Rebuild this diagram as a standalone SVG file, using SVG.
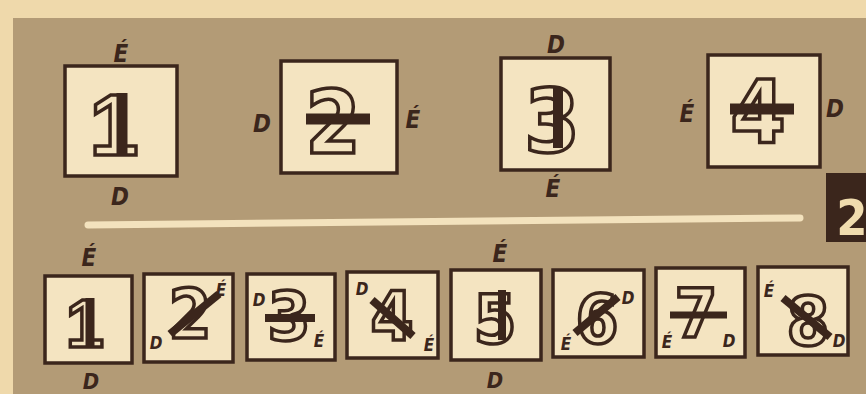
<svg xmlns="http://www.w3.org/2000/svg" width="866" height="394" viewBox="0 0 866 394">
<style>
.box{fill:#f4e4c1;stroke:#3b261c;stroke-width:3.5}
.dig{font-family:"DejaVu Sans Condensed","DejaVu Sans",sans-serif;font-weight:bold;fill:#f4e4c1;stroke:#3b261c;stroke-width:3.5;text-anchor:middle}
.one{font-family:"Liberation Sans","DejaVu Sans",sans-serif}
.big{font-size:88px}
.small{font-size:68px}
.bar{stroke:#3b261c;stroke-linecap:butt;fill:none}
.lab{font-family:"DejaVu Sans Condensed","DejaVu Sans",sans-serif;font-weight:bold;font-style:italic;fill:#3b261c;text-anchor:middle}
.l1{font-size:24px}
.l2{font-size:17px}
</style>
<rect x="0" y="0" width="866" height="394" fill="#efd9ab"/>
<rect x="13" y="18" width="853" height="376" fill="#b39b76"/>
<line x1="88" y1="225" x2="800" y2="218" stroke="#f3e2bd" stroke-width="7" stroke-linecap="round"/>
<g id="tag2">
<rect x="826" y="173" width="40" height="69" fill="#3b261c"/>
<text x="852" y="235" font-family="DejaVu Sans Condensed,DejaVu Sans,sans-serif" font-weight="bold" font-size="50" fill="#f0dcae" text-anchor="middle">2</text>
</g>
<g id="top1">
<rect class="box" x="65" y="66" width="112" height="110"/>
<text class="dig one big" x="114" y="155">1</text>
<line class="bar" x1="122" y1="93" x2="122" y2="155" stroke-width="11"/>
<text class="lab l1" x="121" y="62">É</text>
<text class="lab l1" x="120" y="205">D</text>
</g>
<g id="top2">
<rect class="box" x="281" y="61" width="116" height="112"/>
<text class="dig big" x="333" y="153">2</text>
<line class="bar" x1="306" y1="119" x2="370" y2="119" stroke-width="11"/>
<text class="lab l1" x="262" y="132">D</text>
<text class="lab l1" x="413" y="128">É</text>
</g>
<g id="top3">
<rect class="box" x="501" y="58" width="109" height="112"/>
<text class="dig big" x="552" y="152">3</text>
<line class="bar" x1="558" y1="88" x2="558" y2="148" stroke-width="10"/>
<text class="lab l1" x="556" y="53">D</text>
<text class="lab l1" x="553" y="197">É</text>
</g>
<g id="top4">
<rect class="box" x="708" y="55" width="112" height="112"/>
<text class="dig big" x="758" y="143">4</text>
<line class="bar" x1="730" y1="109" x2="794" y2="109" stroke-width="11"/>
<text class="lab l1" x="687" y="122">É</text>
<text class="lab l1" x="835" y="117">D</text>
</g>
<g id="b1">
<rect class="box" x="45" y="276" width="87" height="87"/>
<text class="dig one small" x="85" y="347">1</text>
<line class="bar" x1="90" y1="298" x2="90" y2="347" stroke-width="9"/>
<text class="lab l1" x="89" y="266">É</text>
<text class="lab" font-size="22" x="91" y="389">D</text>
</g>
<g id="b2">
<rect class="box" x="144" y="274" width="89" height="88"/>
<text class="dig small" x="190" y="338">2</text>
<line class="bar" x1="170" y1="334" x2="219" y2="294" stroke-width="8"/>
<text class="lab l2" x="221" y="296">É</text>
<text class="lab l2" x="156" y="349">D</text>
</g>
<g id="b3">
<rect class="box" x="247" y="274" width="88" height="86"/>
<text class="dig small" x="289" y="340">3</text>
<line class="bar" x1="265" y1="318" x2="315" y2="318" stroke-width="8"/>
<text class="lab l2" x="259" y="306">D</text>
<text class="lab l2" x="319" y="347">É</text>
</g>
<g id="b4">
<rect class="box" x="347" y="272" width="91" height="86"/>
<text class="dig small" x="392" y="340">4</text>
<line class="bar" x1="372" y1="300" x2="413" y2="336" stroke-width="8"/>
<text class="lab l2" x="362" y="295">D</text>
<text class="lab l2" x="429" y="351">É</text>
</g>
<g id="b5">
<rect class="box" x="451" y="270" width="90" height="90"/>
<text class="dig small" x="495" y="343">5</text>
<line class="bar" x1="502" y1="290" x2="502" y2="340" stroke-width="8"/>
<text class="lab l1" x="500" y="262">É</text>
<text class="lab" font-size="22" x="495" y="388">D</text>
</g>
<g id="b6">
<rect class="box" x="553" y="270" width="91" height="87"/>
<text class="dig small" x="597" y="343">6</text>
<line class="bar" x1="575" y1="333" x2="618" y2="297" stroke-width="8"/>
<text class="lab l2" x="628" y="304">D</text>
<text class="lab l2" x="566" y="350">É</text>
</g>
<g id="b7">
<rect class="box" x="656" y="268" width="89" height="89"/>
<text class="dig small" x="696" y="337">7</text>
<line class="bar" x1="670" y1="315" x2="727" y2="315" stroke-width="7"/>
<text class="lab l2" x="667" y="348">É</text>
<text class="lab l2" x="729" y="347">D</text>
</g>
<g id="b8">
<rect class="box" x="758" y="267" width="90" height="88"/>
<text class="dig small" x="808" y="345">8</text>
<line class="bar" x1="783" y1="298" x2="830" y2="337" stroke-width="8"/>
<text class="lab l2" x="769" y="297">É</text>
<text class="lab l2" x="839" y="347">D</text>
</g>
</svg>
